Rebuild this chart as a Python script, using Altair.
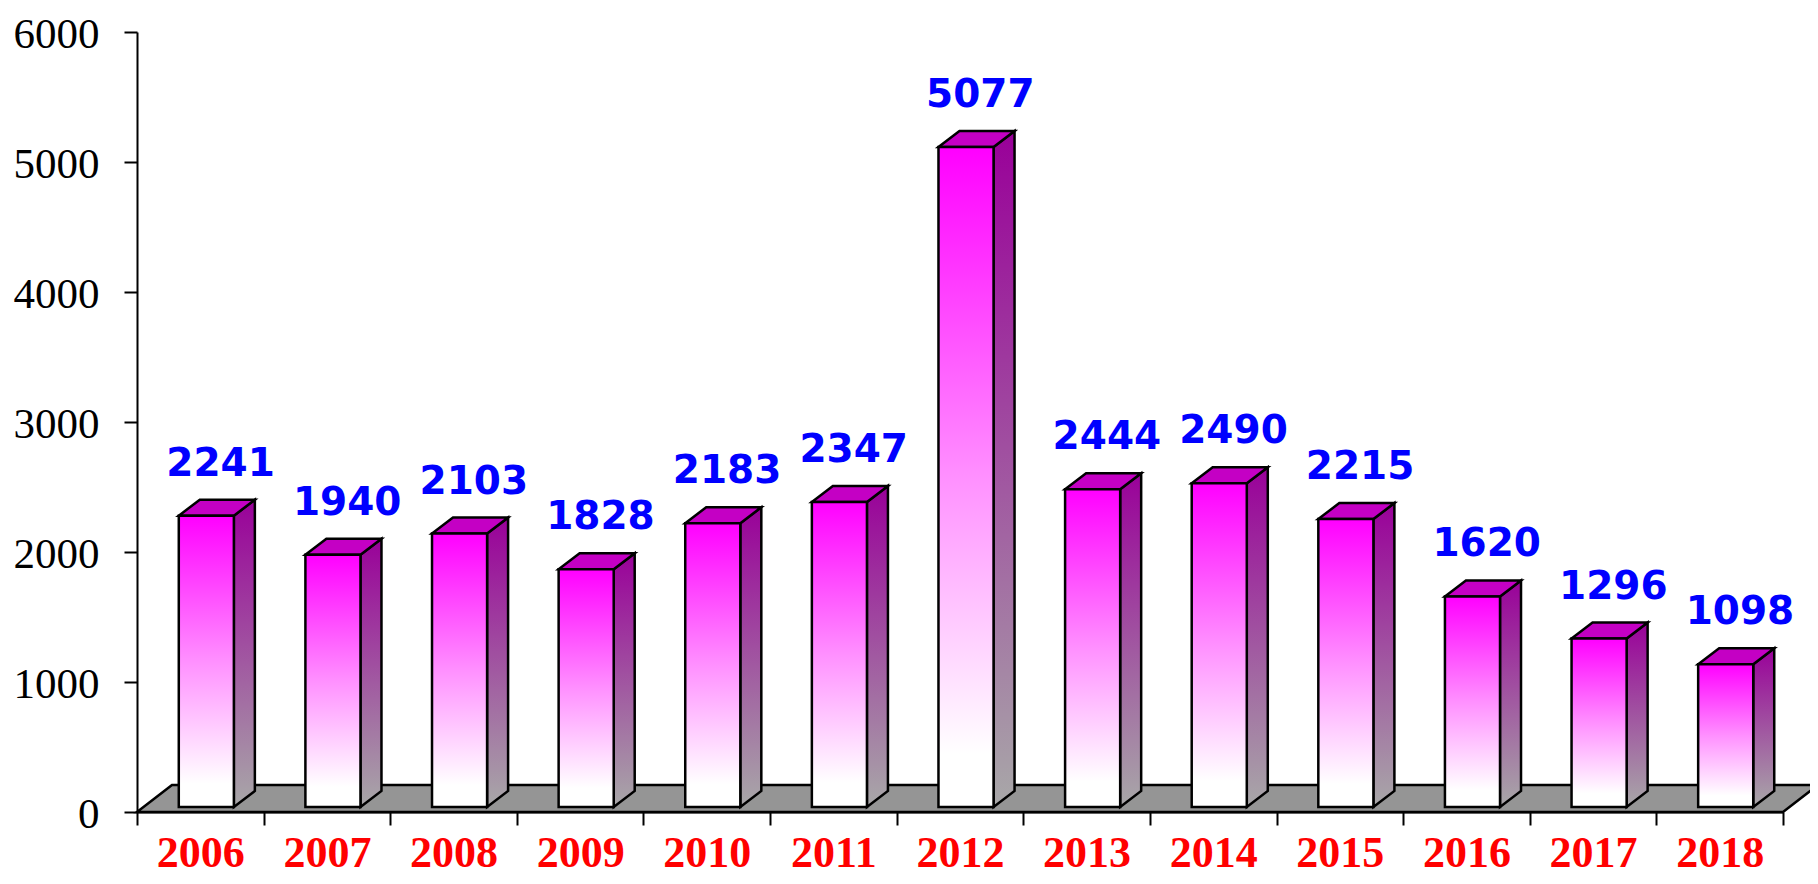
import altair as alt
import pandas as pd

# ---------------- data ----------------
years = ["2006", "2007", "2008", "2009", "2010", "2011", "2012",
         "2013", "2014", "2015", "2016", "2017", "2018"]
values = [2241, 1940, 2103, 1828, 2183, 2347, 5077,
          2444, 2490, 2215, 1620, 1296, 1098]
y_ticks = [0, 1000, 2000, 3000, 4000, 5000, 6000]

# ---------------- layout / style ----------------
W, H = 1646, 780
n = len(years)
y_max = 6000
px_x = W / n          # pixels per category band
px_y = H / y_max      # pixels per unit value

front_left = 0.33     # front face start inside band (fraction)
front_w = 0.435       # front face width (fraction)
depth_dx = 21 / px_x  # bar depth (pixels -> data units)
depth_dy = 16 / px_y
inset = 5 / px_y      # bars sit slightly back on the floor
floor_dx = 35 / px_x
floor_dy = 27 / px_y
label_pos = 0.66
SW = 2.5

x_scale = alt.Scale(domain=[0, n], nice=False, zero=False)
y_scale = alt.Scale(domain=[0, y_max], nice=False, zero=False)

front_rows, side_rows, top_rows, label_rows = [], [], [], []
for i, (yr, v) in enumerate(zip(years, values)):
    x0 = i + front_left
    x1 = x0 + front_w
    yb = inset
    yt = v + inset
    front_rows.append({"year": yr, "x0": x0, "x1": x1, "yb": yb, "yt": yt})
    side_rows.append({"year": yr, "x": x1, "top": yt, "bot": yb})
    side_rows.append({"year": yr, "x": x1 + depth_dx, "top": yt + depth_dy, "bot": yb + depth_dy})
    top_rows.append({"year": yr, "y": yt, "xa": x0, "xb": x1})
    top_rows.append({"year": yr, "y": yt + depth_dy, "xa": x0 + depth_dx, "xb": x1 + depth_dx})
    label_rows.append({"year": yr, "x": i + label_pos, "y": yt, "label": str(v)})

floor_rows = [
    {"y": 0, "xa": 0, "xb": n},
    {"y": floor_dy, "xa": floor_dx, "xb": n + floor_dx},
]

front_df = pd.DataFrame(front_rows)
side_df = pd.DataFrame(side_rows)
top_df = pd.DataFrame(top_rows)
label_df = pd.DataFrame(label_rows)
floor_df = pd.DataFrame(floor_rows)

year_arr = "[" + ",".join("'%s'" % y for y in years) + "]"

x_axis = alt.Axis(
    values=list(range(n + 1)),
    labelExpr="datum.value < %d ? %s[datum.value] : ''" % (n, year_arr),
    tickSize=13, tickWidth=2, tickColor="black",
    domainColor="black", domainWidth=2,
    labelFont="Liberation Serif", labelFontWeight="bold", labelFontSize=44,
    labelColor="#FF0000", labelPadding=6, labelOffset=px_x / 2,
    labelFlush=False, labelOverlap=False, labelBound=False,
    grid=False, title=None,
)
y_axis = alt.Axis(
    values=y_ticks, format="d",
    tickSize=13, tickWidth=2, tickColor="black",
    domainColor="black", domainWidth=2,
    labelFont="Liberation Serif", labelFontSize=43, labelColor="black",
    labelPadding=25, labelBaseline="alphabetic", labelOffset=15,
    labelFlush=False, labelOverlap=False,
    grid=False, title=None,
)

front_grad = alt.LinearGradient(
    gradient="linear",
    stops=[alt.GradientStop(offset=0, color="#FF00FF"),
           alt.GradientStop(offset=0.5, color="#FF90FF"),
           alt.GradientStop(offset=0.92, color="#FFFFFF"),
           alt.GradientStop(offset=1, color="#FFFFFF")],
    x1=0, x2=0, y1=0, y2=1,
)
side_grad = alt.LinearGradient(
    gradient="linear",
    stops=[alt.GradientStop(offset=0, color="#990099"),
           alt.GradientStop(offset=1, color="#A8A8A8")],
    x1=0, x2=0, y1=0, y2=1,
)

floor = alt.Chart(floor_df).mark_area(
    orient="horizontal", fill="#959595", stroke="black", strokeWidth=SW
).encode(
    y=alt.Y("y:Q", scale=y_scale, axis=y_axis),
    x=alt.X("xa:Q", scale=x_scale, axis=x_axis),
    x2="xb:Q",
)

side = alt.Chart(side_df).mark_area(
    orient="vertical", fill=side_grad, stroke="black", strokeWidth=SW
).encode(
    x=alt.X("x:Q", scale=x_scale, axis=x_axis),
    y=alt.Y("top:Q", scale=y_scale, axis=y_axis),
    y2="bot:Q",
    detail="year:N",
)

top = alt.Chart(top_df).mark_area(
    orient="horizontal", fill="#C400C4", stroke="black", strokeWidth=SW
).encode(
    y=alt.Y("y:Q", scale=y_scale, axis=y_axis),
    x=alt.X("xa:Q", scale=x_scale, axis=x_axis),
    x2="xb:Q",
    detail="year:N",
)

front = alt.Chart(front_df).mark_rect(
    fill=front_grad, stroke="black", strokeWidth=SW
).encode(
    x=alt.X("x0:Q", scale=x_scale, axis=x_axis),
    x2="x1:Q",
    y=alt.Y("yb:Q", scale=y_scale, axis=y_axis),
    y2="yt:Q",
)

labels = alt.Chart(label_df).mark_text(
    font="DejaVu Sans", fontWeight="bold", fontSize=39, color="#0000FF",
    align="center", baseline="alphabetic", dy=-40
).encode(
    x=alt.X("x:Q", scale=x_scale, axis=x_axis),
    y=alt.Y("y:Q", scale=y_scale, axis=y_axis),
    text="label:N",
)

chart = alt.layer(floor, side, top, front, labels).properties(
    width=W, height=H,
    padding={"left": 129, "top": 24, "right": 27, "bottom": 64},
    autosize=alt.AutoSizeParams(type="none"),
    background="white",
).configure_view(stroke=None)

chart.save("out.html", embed_options={"renderer": "svg", "actions": False})
